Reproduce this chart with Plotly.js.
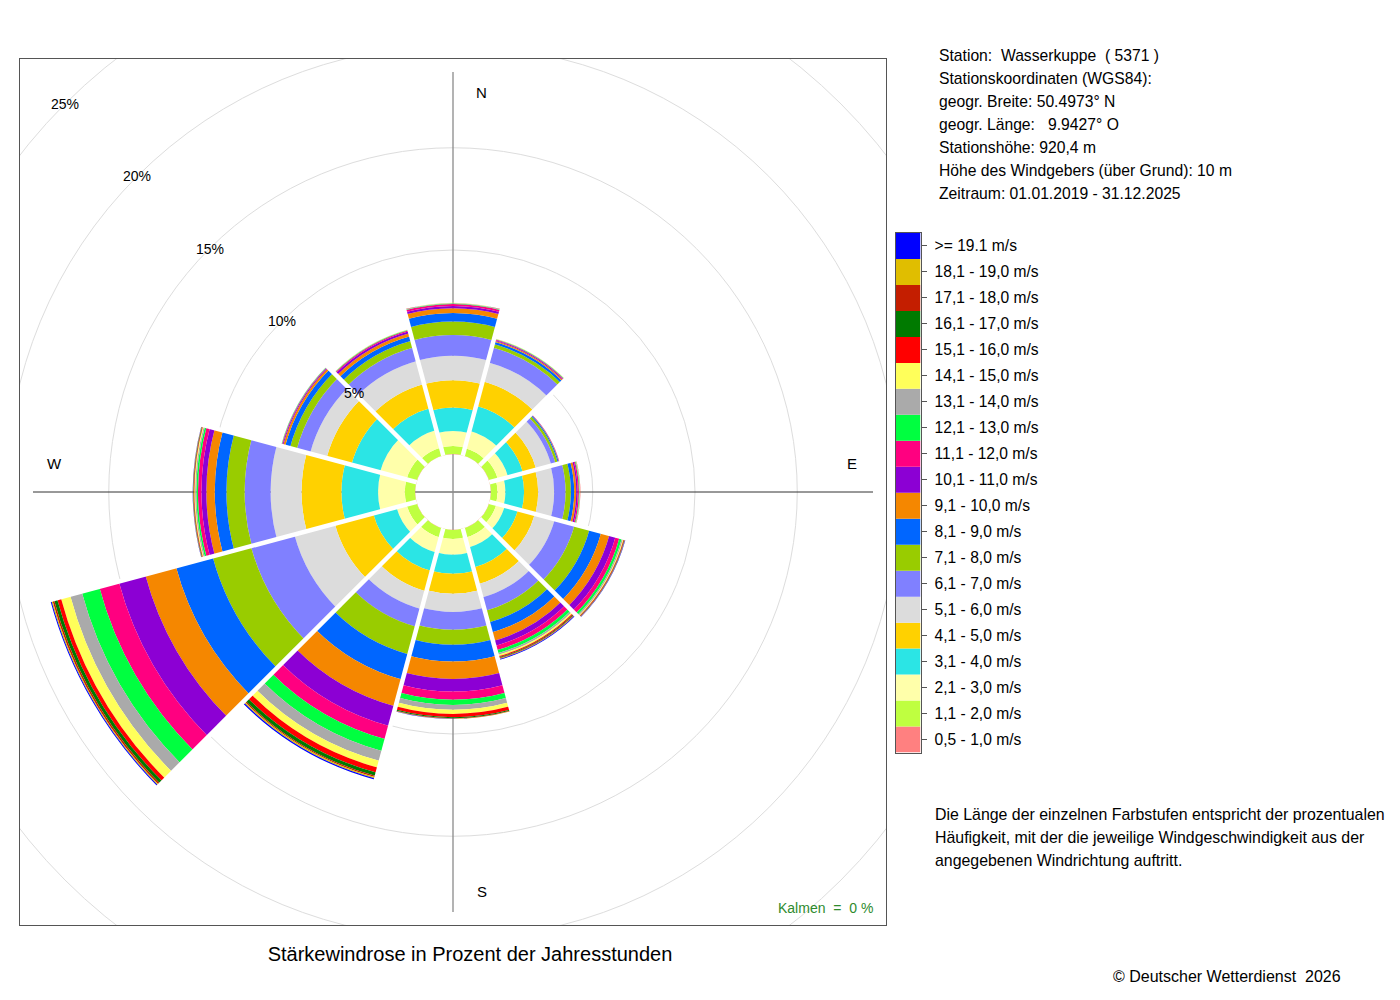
<!DOCTYPE html>
<html>
<head>
<meta charset="utf-8">
<script src="https://cdn.plot.ly/plotly-3.0.1.min.js"></script>
<style>html,body{margin:0;padding:0;background:#fff;}</style>
</head>
<body>
<div id="chart" style="width:1400px;height:1000px;"></div>
<script>
// ---------- data ----------
const directions = [0, 30, 60, 90, 120, 150, 180, 210, 240, 270, 300, 330];

const speedClasses = [
  '0,5 - 1,0 m/s', '1,1 - 2,0 m/s', '2,1 - 3,0 m/s', '3,1 - 4,0 m/s', '4,1 - 5,0 m/s',
  '5,1 - 6,0 m/s', '6,1 - 7,0 m/s', '7,1 - 8,0 m/s', '8,1 - 9,0 m/s', '9,1 - 10,0 m/s',
  '10,1 - 11,0 m/s', '11,1 - 12,0 m/s', '12,1 - 13,0 m/s', '13,1 - 14,0 m/s', '14,1 - 15,0 m/s',
  '15,1 - 16,0 m/s', '16,1 - 17,0 m/s', '17,1 - 18,0 m/s', '18,1 - 19,0 m/s', '>= 19.1 m/s'
];

const classColors = [
  '#FF8080', '#BFFF40', '#FFFFAA', '#2BE5E5', '#FFD100',
  '#DCDCDC', '#8080FF', '#99CC00', '#0066FF', '#F58700',
  '#8C00D4', '#FF0080', '#00FF40', '#AAAAAA', '#FFFF5A',
  '#FF0000', '#007A00', '#C41E00', '#E0BE00', '#0000FF'
];

// percent of hours per direction (N, NNE, ENE, E, ESE, SSE, S, SSW, WSW, W, NW, NNW)
const p05to10   = [0.02, 0.02, 0.02, 0.02, 0.02, 0.02, 0.02, 0.02, 0.02, 0.02, 0.02, 0.02];
const p11to20   = [0.40, 0.37, 0.43, 0.32, 0.35, 0.46, 0.44, 0.46, 0.50, 0.50, 0.50, 0.40];
const p21to30   = [0.73, 0.88, 0.51, 0.39, 0.42, 0.51, 0.77, 0.76, 0.51, 1.31, 1.35, 0.88];
const p31to40   = [1.14, 1.26, 0.76, 0.91, 0.67, 1.01, 0.93, 0.93, 1.18, 1.79, 1.44, 1.12];
const p41to50   = [1.34, 1.24, 0.67, 0.69, 0.85, 0.84, 0.98, 1.03, 1.94, 1.95, 1.26, 1.22];
const p51to60   = [1.19, 0.97, 0.76, 0.78, 1.01, 0.68, 0.89, 0.90, 2.05, 1.51, 0.84, 1.17];
const p61to70   = [1.02, 0.76, 0.22, 0.56, 1.01, 0.67, 0.87, 0.90, 2.20, 1.27, 0.68, 0.68];
const p71to80   = [0.66, 0.17, 0.12, 0.26, 0.76, 0.59, 0.73, 1.40, 1.94, 0.89, 0.34, 0.34];
const p81to90   = [0.41, 0.11, 0.05, 0.16, 0.59, 0.51, 0.82, 1.27, 1.86, 0.57, 0.25, 0.24];
const p91to100  = [0.24, 0.06, 0.02, 0.10, 0.42, 0.42, 0.85, 1.35, 1.55, 0.41, 0.10, 0.15];
const p101to110 = [0.11, 0.04, 0.01, 0.07, 0.31, 0.26, 0.62, 1.01, 1.34, 0.24, 0.04, 0.10];
const p111to120 = [0.09, 0.03, 0.01, 0.06, 0.20, 0.22, 0.40, 0.67, 0.99, 0.17, 0.03, 0.05];
const p121to130 = [0.03, 0.02, 0.00, 0.03, 0.12, 0.15, 0.25, 0.60, 0.89, 0.08, 0.02, 0.02];
const p131to140 = [0.02, 0.01, 0.00, 0.02, 0.06, 0.09, 0.24, 0.50, 0.59, 0.06, 0.01, 0.02];
const p141to150 = [0.01, 0.01, 0.00, 0.01, 0.04, 0.07, 0.20, 0.34, 0.47, 0.04, 0.00, 0.01];
const p151to160 = [0.01, 0.00, 0.00, 0.01, 0.03, 0.05, 0.16, 0.25, 0.19, 0.03, 0.00, 0.00];
const p161to170 = [0.00, 0.00, 0.00, 0.00, 0.02, 0.04, 0.05, 0.17, 0.16, 0.02, 0.00, 0.00];
const p171to180 = [0.00, 0.00, 0.00, 0.00, 0.01, 0.03, 0.02, 0.06, 0.08, 0.01, 0.00, 0.00];
const p181to190 = [0.00, 0.00, 0.00, 0.00, 0.01, 0.02, 0.01, 0.06, 0.05, 0.01, 0.00, 0.00];
const p191plus  = [0.00, 0.00, 0.00, 0.00, 0.02, 0.04, 0.01, 0.06, 0.05, 0.01, 0.00, 0.00];

const gridPercents = [5, 10, 15, 20, 25];
const compassLabels = ['N', 'E', 'S', 'W'];
const compassAngles = [0, 90, 180, 270];

const stationLines = [
  'Station:  Wasserkuppe  ( 5371 )',
  'Stationskoordinaten (WGS84):',
  'geogr. Breite: 50.4973° N',
  'geogr. Länge:   9.9427° O',
  'Stationshöhe: 920,4 m',
  'Höhe des Windgebers (über Grund): 10 m',
  'Zeitraum: 01.01.2019 - 31.12.2025'
];
const noteLines = [
  'Die Länge der einzelnen Farbstufen entspricht der prozentualen',
  'Häufigkeit, mit der die jeweilige Windgeschwindigkeit aus der',
  'angegebenen Windrichtung auftritt.'
];
const chartTitle = 'Stärkewindrose in Prozent der Jahresstunden';
const calmText = 'Kalmen  =  0 %';
const copyrightText = '© Deutscher Wetterdienst  2026';

// ---------- geometry / style ----------
const W = 1400, H = 1000;
const FONT = 'Liberation Sans, Arial, Helvetica, sans-serif';
const FRAME_L = 20, FRAME_T = 59, FRAME_SIZE = 866;
const HALF = FRAME_SIZE / 2;
const HOLE_PX = 37.5;
const PX_PER_PCT = 20.45;
const RMAX = (HALF - HOLE_PX) / PX_PER_PCT;
const nb = s => s.replace(/ /g, '\u00a0');

const classSeries = [p05to10, p11to20, p21to30, p31to40, p41to50, p51to60, p61to70,
  p71to80, p81to90, p91to100, p101to110, p111to120, p121to130, p131to140, p141to150,
  p151to160, p161to170, p171to180, p181to190, p191plus];

const traces = classSeries.map((vals, i) => ({
  type: 'barpolar',
  r: vals,
  theta: directions,
  width: 30,
  name: speedClasses[i],
  marker: {color: classColors[i], line: {width: 0}},
  showlegend: false,
  hovertemplate: '%{theta}°: %{r}%<extra>' + speedClasses[i] + '</extra>',
  subplot: 'polar'
}));

// white separators between sectors (constant pixel width gaps)
const totals = directions.map((d, j) => classSeries.reduce((s, arr) => s + arr[j], 0));
const sepR = [], sepT = [];
directions.forEach((d, j) => {
  const m = Math.max(totals[j], totals[(j + 1) % directions.length]) + 0.3;
  sepR.push(0, m, null);
  sepT.push(d + 15, d + 15, null);
});
traces.push({
  type: 'scatterpolar', mode: 'lines', r: sepR, theta: sepT,
  line: {color: '#ffffff', width: 4.5}, hoverinfo: 'skip', showlegend: false, subplot: 'polar'
});

// legend column (stacked swatches)
traces.push({
  type: 'bar',
  x: speedClasses.map(() => 0),
  y: speedClasses.map(() => 1),
  base: speedClasses.map((c, i) => i),
  width: 1,
  marker: {color: classColors, line: {width: 0}},
  xaxis: 'x2', yaxis: 'y2',
  hoverinfo: 'skip', showlegend: false
});

const px2x = px => px / W;
const py2y = py => 1 - py / H;

const shapes = [];
gridPercents.forEach(v => {
  const rad = HOLE_PX + v * PX_PER_PCT;
  shapes.push({type: 'circle', xref: 'x', yref: 'y', x0: -rad, x1: rad, y0: -rad, y1: rad,
    line: {color: '#dddddd', width: 1}, layer: 'below'});
});
const AXLEN = 420;
shapes.push({type: 'line', xref: 'x', yref: 'y', x0: -AXLEN, x1: AXLEN, y0: 0, y1: 0,
  line: {color: '#333333', width: 1}, layer: 'below'});
shapes.push({type: 'line', xref: 'x', yref: 'y', x0: 0, x1: 0, y0: -AXLEN, y1: AXLEN,
  line: {color: '#8a8a8a', width: 1.3}, layer: 'below'});

const annotations = [];
gridPercents.forEach(v => {
  const rad = HOLE_PX + v * PX_PER_PCT;
  annotations.push({xref: 'x', yref: 'y', x: -rad * Math.SQRT1_2, y: rad * Math.SQRT1_2,
    text: v + '%', showarrow: false, xanchor: 'center', yanchor: 'middle',
    font: {family: FONT, size: 14, color: '#000'}});
});
const LBL_R = 399, LBL_OFF = 28.5;
compassLabels.forEach((t, i) => {
  const a = compassAngles[i] * Math.PI / 180;
  const vertical = compassAngles[i] % 180 === 0;
  annotations.push({xref: 'x', yref: 'y',
    x: LBL_R * Math.sin(a) + (vertical ? LBL_OFF : 0),
    y: LBL_R * Math.cos(a) + (vertical ? 0 : LBL_OFF),
    text: t, showarrow: false, xanchor: 'center', yanchor: 'middle',
    font: {family: FONT, size: 15, color: '#000'}});
});
stationLines.forEach((t, i) => {
  annotations.push({xref: 'paper', yref: 'paper', x: px2x(937), y: py2y(55 + i * 23.1),
    text: nb(t), showarrow: false, xanchor: 'left', yanchor: 'middle',
    font: {family: FONT, size: 15.7, color: '#000'}});
});
noteLines.forEach((t, i) => {
  annotations.push({xref: 'paper', yref: 'paper', x: px2x(933), y: py2y(814 + i * 23),
    text: t, showarrow: false, xanchor: 'left', yanchor: 'middle',
    font: {family: FONT, size: 15.9, color: '#000'}});
});
annotations.push({xref: 'paper', yref: 'paper', x: px2x(875), y: py2y(908),
  text: nb(calmText), showarrow: false, xanchor: 'right', yanchor: 'middle',
  font: {family: FONT, size: 14, color: '#2e8b2e'}});
annotations.push({xref: 'paper', yref: 'paper', x: px2x(1343), y: py2y(976),
  text: nb(copyrightText), showarrow: false, xanchor: 'right', yanchor: 'middle',
  font: {family: FONT, size: 16, color: '#000'}});

const layout = {
  width: W, height: H, autosize: false,
  margin: {l: 0, r: 0, t: 0, b: 0, pad: 0},
  paper_bgcolor: '#ffffff', plot_bgcolor: 'rgba(0,0,0,0)',
  showlegend: false,
  font: {family: FONT, color: '#000'},
  title: {text: chartTitle, x: px2x(470), y: py2y(954), xanchor: 'center', yanchor: 'middle',
    xref: 'container', yref: 'container', font: {family: FONT, size: 20, color: '#000'}},
  xaxis: {domain: [px2x(FRAME_L), px2x(FRAME_L + FRAME_SIZE)], range: [-HALF, HALF],
    anchor: 'y', showgrid: false, zeroline: false, showticklabels: false, ticks: '',
    showline: true, mirror: true, linecolor: '#555', linewidth: 1, fixedrange: true},
  yaxis: {domain: [py2y(FRAME_T + FRAME_SIZE), py2y(FRAME_T)], range: [-HALF, HALF],
    anchor: 'x', showgrid: false, zeroline: false, showticklabels: false, ticks: '',
    showline: true, mirror: true, linecolor: '#555', linewidth: 1, fixedrange: true},
  xaxis2: {domain: [px2x(895.5), px2x(920.5)], range: [-0.5, 0.5], anchor: 'y2',
    showgrid: false, zeroline: false, showticklabels: false, ticks: '',
    showline: true, mirror: true, linecolor: '#555', linewidth: 1, fixedrange: true},
  yaxis2: {domain: [py2y(752.5), py2y(233)], range: [0, speedClasses.length], anchor: 'x2',
    side: 'right', showgrid: false, zeroline: false,
    tickmode: 'array', tickvals: speedClasses.map((c, i) => i + 0.5), ticktext: speedClasses,
    ticks: 'outside', ticklen: 5, tickcolor: '#555', tickwidth: 1, ticklabelstandoff: 5,
    tickfont: {family: FONT, size: 15.6, color: '#000'},
    showline: true, mirror: true, linecolor: '#555', linewidth: 1, fixedrange: true},
  polar: {
    domain: {x: [px2x(FRAME_L), px2x(FRAME_L + FRAME_SIZE)], y: [py2y(FRAME_T + FRAME_SIZE), py2y(FRAME_T)]},
    bgcolor: 'rgba(0,0,0,0)',
    hole: HOLE_PX / HALF,
    barmode: 'stack',
    radialaxis: {range: [0, RMAX], visible: false, showgrid: false},
    angularaxis: {rotation: 90, direction: 'clockwise', showgrid: false, showline: false,
      showticklabels: false, ticks: ''}
  },
  shapes: shapes,
  annotations: annotations
};

Plotly.newPlot('chart', traces, layout, {displayModeBar: false, staticPlot: true});
</script>
</body>
</html>
